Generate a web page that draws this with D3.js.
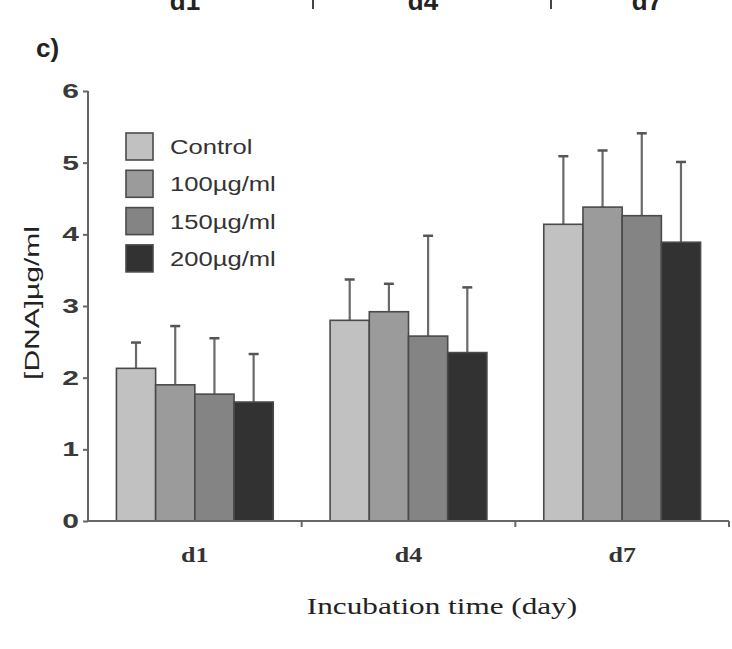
<!DOCTYPE html>
<html>
<head>
<meta charset="utf-8">
<script src="https://cdn.jsdelivr.net/npm/d3@7"></script>
<style>
  body { margin: 0; background: #fff; }
  svg { display: block; }
  .yax text { font-family: "Liberation Sans", Arial, sans-serif; font-weight: bold; font-size: 20px; fill: #3a3a3a; }
  .xax text { font-family: "Liberation Serif", "Times New Roman", serif; font-weight: bold; font-size: 20px; fill: #333; }
</style>
</head>
<body>
<svg id="chart" width="732" height="649"></svg>
<script>
// data
var days = ["d1", "d4", "d7"];
var groups = ["Control", "100µg/ml", "150µg/ml", "200µg/ml"];
var means = [
    [2.13, 1.90, 1.77, 1.66],   // d1
    [2.80, 2.92, 2.58, 2.35],   // d4
    [4.14, 4.38, 4.26, 3.89]    // d7
];
var upper = [
    [2.49, 2.72, 2.55, 2.33],
    [3.37, 3.31, 3.98, 3.26],
    [5.09, 5.17, 5.41, 5.01]
];
var yTicks = [0, 1, 2, 3, 4, 5, 6];
var fills = ["#c1c1c1", "#9b9b9b", "#848484", "#323232"];

var svg = d3.select("#chart");
var m = {l: 88, r: 3, t: 91, b: 128};
var W = 732, H = 649;

// the scan is stretched sideways, so widen glyphs around their anchor x
function stretch(sel, k) {
    sel.each(function() {
        var t = d3.select(this);
        var ax = +(t.attr("x") || 0), ay = +(t.attr("y") || 0);
        var pre = t.attr("transform") || "";
        t.attr("transform", pre + " translate(" + ax + "," + ay + ") scale(" + k + ",1) translate(" + (-ax) + "," + (-ay) + ")");
    });
}

var x0 = d3.scaleBand().domain(days).range([m.l, W - m.r]).paddingInner(0).paddingOuter(0);
var x1 = d3.scaleBand().domain(groups).range([0, x0.bandwidth()]).paddingInner(0).paddingOuter(0.725);
var y = d3.scaleLinear().domain([0, 6]).range([H - m.b, m.t]);
var color = d3.scaleOrdinal().domain(groups).range(fills);

// cut-off labels of the panel above
var topg = svg.append("g");
topg.selectAll("text").data(days).join("text")
    .attr("x", (d, i) => [185, 423, 647][i])
    .attr("y", 10)
    .attr("text-anchor", "middle")
    .style("font-family", "Liberation Sans, Arial, sans-serif")
    .style("font-weight", "bold").style("font-size", "26px").style("fill", "#222")
    .text(d => d);
topg.selectAll("line").data([313, 551]).join("line")
    .attr("x1", d => d).attr("x2", d => d).attr("y1", 0).attr("y2", 9)
    .attr("stroke", "#444").attr("stroke-width", 2);

svg.append("text")
    .attr("x", 36).attr("y", 57)
    .style("font-family", "Liberation Sans, Arial, sans-serif")
    .style("font-weight", "bold").style("font-size", "26px").style("fill", "#222")
    .text("c)");

// bars
var gday = svg.selectAll(".day").data(days).join("g")
    .attr("class", "day")
    .attr("transform", d => "translate(" + x0(d) + ",0)");

gday.each(function(d, di) {
    var g = d3.select(this);
    var rows = groups.map((k, gi) => ({k: k, v: means[di][gi], e: upper[di][gi]}));
    g.selectAll(".err").data(rows).join("line")
        .attr("class", "err")
        .attr("x1", r => x1(r.k) + x1.bandwidth() / 2)
        .attr("x2", r => x1(r.k) + x1.bandwidth() / 2)
        .attr("y1", r => y(r.v)).attr("y2", r => y(r.e))
        .attr("stroke", "#6a6a6a").attr("stroke-width", 2.2);
    g.selectAll(".cap").data(rows).join("line")
        .attr("class", "cap")
        .attr("x1", r => x1(r.k) + x1.bandwidth() / 2 - 5)
        .attr("x2", r => x1(r.k) + x1.bandwidth() / 2 + 5)
        .attr("y1", r => y(r.e)).attr("y2", r => y(r.e))
        .attr("stroke", "#555").attr("stroke-width", 2.5);
    g.selectAll(".bar").data(rows).join("rect")
        .attr("class", "bar")
        .attr("x", r => x1(r.k))
        .attr("y", r => y(r.v))
        .attr("width", x1.bandwidth())
        .attr("height", r => y(0) - y(r.v))
        .attr("fill", r => color(r.k))
        .attr("stroke", "#4a4a4a").attr("stroke-width", 1.6);
});

// y axis
var yax = svg.append("g").attr("class", "yax")
    .attr("transform", "translate(" + m.l + ",0)")
    .call(d3.axisLeft(y).tickValues(yTicks).tickFormat(d3.format("d")).tickSize(5).tickPadding(4));
yax.selectAll("path,line").attr("stroke", "#666").attr("stroke-width", 2);
yax.select(".domain").attr("d", "M0," + y(6) + "V" + y(0));
stretch(yax.selectAll("text"), 1.5);

// x axis
var xax = svg.append("g").attr("class", "xax")
    .attr("transform", "translate(0," + y(0) + ")")
    .call(d3.axisBottom(x0).tickSize(0).tickPadding(27));
xax.select(".domain").attr("d", "M" + m.l + ",0H" + (W - m.r)).attr("stroke", "#666").attr("stroke-width", 2);
xax.selectAll(".div").data(days).join("line")
    .attr("class", "div")
    .attr("x1", d => x0(d) + x0.bandwidth()).attr("x2", d => x0(d) + x0.bandwidth())
    .attr("y1", 0).attr("y2", 6)
    .attr("stroke", "#666").attr("stroke-width", 2);
stretch(xax.selectAll("text"), 1.3);

// legend
var lg = svg.append("g").attr("transform", "translate(126,133)");
var li = lg.selectAll("g").data(groups).join("g")
    .attr("transform", (d, i) => "translate(0," + i * 37.3 + ")");
li.append("rect").attr("width", 27).attr("height", 27)
    .attr("fill", d => color(d)).attr("stroke", "#4a4a4a").attr("stroke-width", 1.6);
var lt = li.append("text").attr("x", 44).attr("y", 21)
    .style("font-family", "Liberation Sans, Arial, sans-serif")
    .style("font-size", "20px").style("fill", "#333")
    .text(d => d);
stretch(lt, 1.28);

// axis titles
svg.append("text")
    .attr("transform", "translate(39,303) rotate(-90) scale(1.5,1)")
    .attr("text-anchor", "middle")
    .style("font-family", "Liberation Sans, Arial, sans-serif")
    .style("font-size", "20px").style("fill", "#222")
    .text("[DNA]µg/ml");

var xt = svg.append("text")
    .attr("x", 442).attr("y", 614)
    .attr("text-anchor", "middle")
    .style("font-family", "Liberation Serif, Times New Roman, serif")
    .style("font-size", "24px").style("fill", "#222")
    .text("Incubation time (day)");
stretch(xt, 1.3);
</script>
</body>
</html>
